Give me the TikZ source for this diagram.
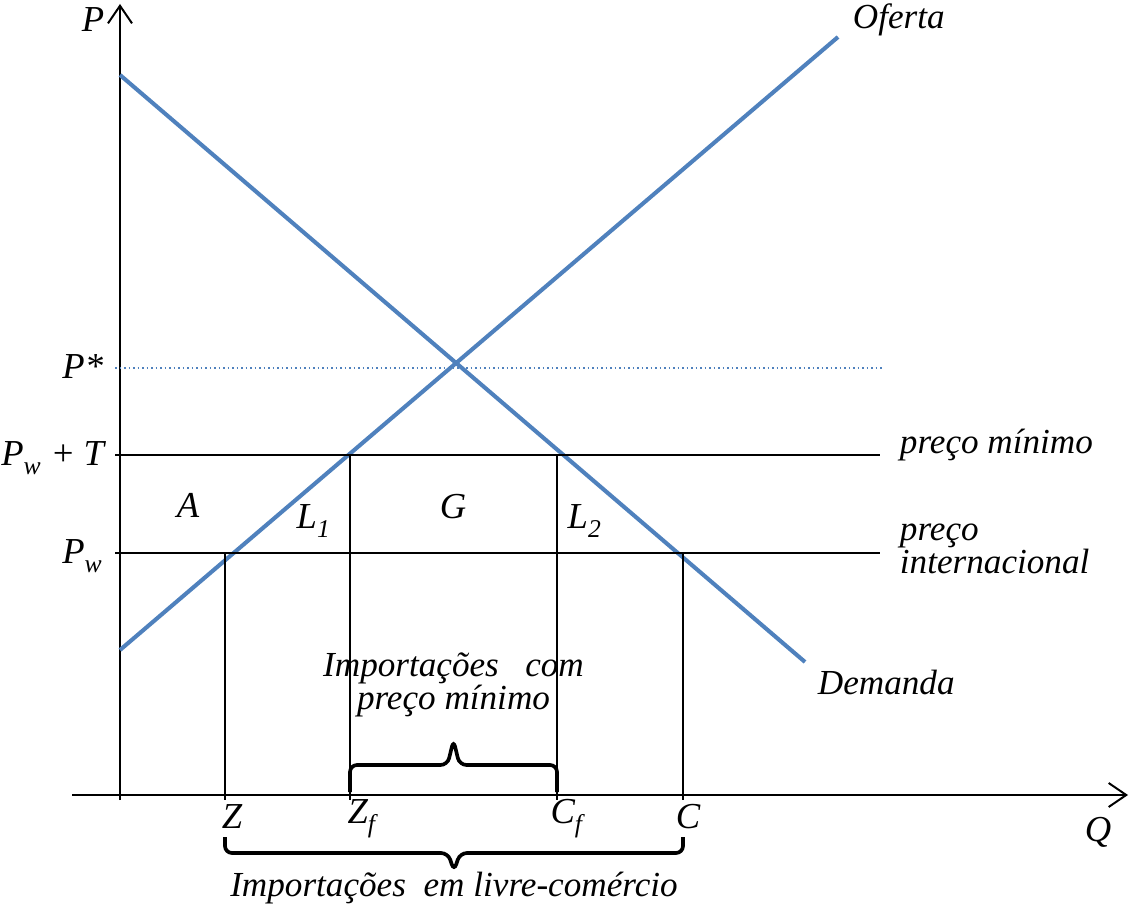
\documentclass[tikz,border=0pt]{standalone}
\usepackage{fontspec}
\setmainfont{Liberation Serif}
\usetikzlibrary{arrows.meta,calc}
\definecolor{azul}{RGB}{79,129,189}
\newcommand{\ind}[2]{#1\textsubscript{\raisebox{-0.35ex}{#2}}}
\tikzset{
  curva/.style={azul,line width=1.45pt},
  eixo/.style={line width=0.7pt},
  preco/.style={line width=0.65pt},
  chave/.style={line width=1.3pt,rounded corners=2.5pt},
  rot/.style={font=\fontsize{12.5}{12}\selectfont\itshape},
  letra/.style={font=\fontsize{13}{13}\selectfont\itshape},
}
\begin{document}
\begin{tikzpicture}[x=0.0125cm, y=-0.0125cm, >={Straight Barb[length=2.2mm,width=3mm]}, rot]
    \useasboundingbox (0,0) rectangle (1137,908);

    % eixos
    \coordinate (Ybase) at (120,800);
    \coordinate (Ytop) at (120,4);
    \coordinate (Xl) at (72,795);
    \coordinate (Xr) at (1128,795);
    \draw[->,eixo] (Ybase) -- (Ytop);
    \draw[->,eixo] (Xl) -- (Xr);
    \node[letra] (P) at (93,20) {P};
    \node[letra] (Q) at (1098,832) {Q};

    % curvas de oferta e demanda
    \coordinate (D1) at (120,75);  \coordinate (D2) at (805,662);
    \coordinate (S1) at (120,650); \coordinate (S2) at (838,37);
    \draw[curva] (D1) -- (D2);
    \draw[curva] (S1) -- (S2);
    \node[anchor=west] (Of) at (843,20) {Oferta};
    \node[anchor=west] (Dm) at (808,682) {Demanda};

    % linhas de preço
    \coordinate (PE1) at (115,368); \coordinate (PE2) at (882,368);
    \coordinate (PT1) at (115,455); \coordinate (PT2) at (880,455);
    \coordinate (PW1) at (115,553); \coordinate (PW2) at (880,553);
    \draw[azul,densely dotted,line width=0.6pt] (PE1) -- (PE2);
    \draw[preco] (PT1) -- (PT2);
    \draw[preco] (PW1) -- (PW2);
    \node[letra,anchor=east] (Pe) at (113,367) {P*};
    \node[letra,anchor=east] (PwT) at (114,458) {\ind{P}{w}\hspace{3pt}+\hspace{3pt}T};
    \node[letra,anchor=east] (Pw) at (113,556) {\ind{P}{w}};
    \node[anchor=west] (pm) at (890,445) {preço mínimo};
    \node[anchor=west,align=left] (pi) at (890,549) {preço\\internacional};

    % quantidades
    \coordinate (Z)  at (225,553);
    \coordinate (Zf) at (350,455);
    \coordinate (Cf) at (557,455);
    \coordinate (C)  at (683,553);
    \foreach \q in {Z,Zf,Cf,C}
      \draw[preco] (\q) -- (\q |- Ybase);
    \node[letra] (lZ)  at ($(Z |- Ybase)+(7,17)$) {Z};
    \node[letra] (lZf) at ($(Zf |- Ybase)+(12,19)$) {\ind{Z}{f}};
    \node[letra] (lCf) at ($(Cf |- Ybase)+(10,19)$) {\ind{C}{f}};
    \node[letra] (lC)  at ($(C |- Ybase)+(5,17)$) {C};

    % áreas
    \node[letra] (A)  at (188,505) {A};
    \node[letra] (L1) at (314,521) {\ind{L}{1}};
    \node[letra] (G)  at (453,507) {G};
    \node[letra] (L2) at (585,521) {\ind{L}{2}};

    % chaves
    \coordinate (mf) at ($(Zf)!0.5!(Cf)$);
    \coordinate (ml) at ($(Z)!0.5!(C)$);
    \draw[chave] (Zf |- 0,792) -- (Zf |- 0,765) -- ($(mf |- 0,765)+(-6,0)$)
      -- (mf |- 0,740) -- ($(mf |- 0,765)+(6,0)$) -- (Cf |- 0,765) -- (Cf |- 0,792);
    \draw[chave] (Z |- 0,837) -- (Z |- 0,853) -- ($(ml |- 0,853)+(-6,0)$)
      -- (ml |- 0,871) -- ($(ml |- 0,853)+(6,0)$) -- (C |- 0,853) -- (C |- 0,837);
    \node[align=center] (Icp) at ($(mf |- 0,685)$) {Importações\ \ \ com\\preço mínimo};
    \node (Ilc) at ($(ml |- 0,888)$) {Importações\ \ em livre-comércio};
\end{tikzpicture}
\end{document}
